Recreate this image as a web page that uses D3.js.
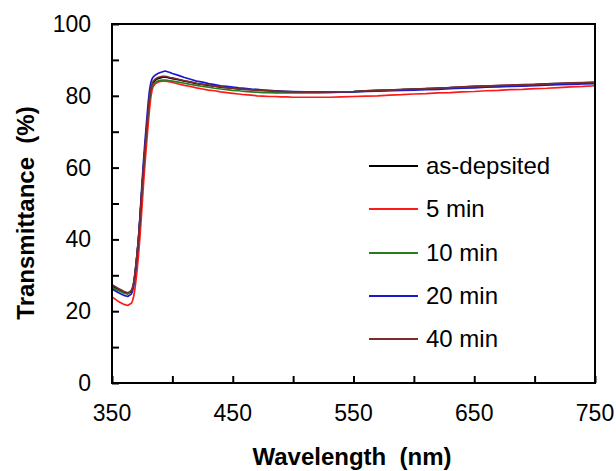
<!DOCTYPE html>
<html>
<head>
<meta charset="utf-8">
<script src="https://cdn.jsdelivr.net/npm/d3@7"></script>
<style>
  html, body { margin: 0; padding: 0; background: #fff; }
  svg { display: block; }
  text { font-family: "Liberation Sans", Arial, sans-serif; fill: #000; }
</style>
</head>
<body>
<svg id="chart" width="616" height="471"></svg>
<script>
const wavelengths = [350,355,360,363,366,367,368,369,370,371,372,373,374,375,376,377,378,379,380,381,382,383,384,386,388,390,392,394,396,398,400,405,410,415,420,425,430,435,440,445,450,455,460,465,470,475,480,485,490,495,500,510,520,530,540,550,560,570,580,590,600,610,620,630,640,650,660,670,680,690,700,710,720,730,740,750];

const asDeposited = [27.0,26.1,25.3,24.9,25.5,26.3,27.8,30.2,33.3,36.6,40.2,44.8,49.8,54.9,59.4,63.8,67.9,71.8,75.6,79.0,81.3,82.7,83.6,84.4,84.8,85.0,85.2,85.2,85.1,84.9,84.8,84.5,84.1,83.8,83.4,83.2,82.9,82.7,82.4,82.3,82.1,81.9,81.8,81.7,81.6,81.5,81.4,81.3,81.2,81.2,81.1,81.0,81.0,81.0,81.1,81.2,81.4,81.5,81.6,81.7,81.9,82.0,82.1,82.3,82.4,82.6,82.7,82.8,82.9,83.0,83.1,83.3,83.4,83.5,83.6,83.7];

const min5 = [24.0,22.8,21.9,21.6,22.2,22.9,24.2,26.3,29.0,32.2,35.8,40.0,44.8,49.9,55.0,59.6,64.0,68.2,72.2,76.0,79.2,81.3,82.5,83.4,83.8,84.0,84.1,84.1,84.0,83.9,83.7,83.3,82.9,82.6,82.2,81.9,81.6,81.4,81.1,80.9,80.7,80.5,80.3,80.2,80.0,79.9,79.8,79.8,79.7,79.7,79.6,79.6,79.6,79.6,79.7,79.8,79.9,80.0,80.2,80.3,80.5,80.6,80.8,80.9,81.1,81.2,81.4,81.5,81.7,81.8,82.0,82.1,82.3,82.5,82.6,82.8];

const min10 = [26.6,25.8,25.0,24.8,25.8,26.6,28.0,30.4,33.5,36.8,40.4,45.0,50.0,55.0,59.5,63.8,67.8,71.6,75.3,78.6,80.9,82.2,83.1,83.8,84.1,84.3,84.4,84.4,84.3,84.2,84.1,83.8,83.5,83.2,82.9,82.6,82.4,82.1,81.9,81.7,81.5,81.4,81.2,81.1,81.0,80.9,80.9,80.8,80.8,80.8,80.8,80.8,80.8,80.9,81.0,81.1,81.3,81.4,81.5,81.6,81.8,81.9,82.0,82.2,82.3,82.5,82.6,82.7,82.8,82.9,83.0,83.2,83.3,83.4,83.5,83.6];

const min20 = [26.2,25.2,24.4,24.1,24.8,25.6,27.2,29.8,33.0,36.6,40.6,45.6,51.0,56.4,61.3,65.9,70.2,74.3,78.2,81.4,83.4,84.6,85.2,85.8,86.2,86.5,86.7,86.9,86.7,86.5,86.2,85.7,85.1,84.6,84.1,83.8,83.4,83.1,82.8,82.6,82.4,82.2,82.1,81.9,81.8,81.6,81.5,81.4,81.3,81.2,81.2,81.1,81.0,81.0,81.0,81.1,81.2,81.3,81.4,81.5,81.6,81.7,81.8,82.0,82.1,82.2,82.4,82.5,82.6,82.7,82.8,83.0,83.1,83.2,83.3,83.4];

const min40 = [27.4,26.4,25.5,25.1,25.6,26.4,27.9,30.3,33.4,36.7,40.3,44.9,49.9,55.0,59.6,64.0,68.2,72.1,76.0,79.4,81.7,83.1,84.0,84.7,85.1,85.3,85.4,85.4,85.3,85.1,85.0,84.6,84.2,83.9,83.5,83.2,83.0,82.7,82.5,82.3,82.1,81.9,81.8,81.7,81.6,81.5,81.4,81.3,81.2,81.2,81.1,81.0,81.0,81.1,81.1,81.2,81.4,81.5,81.6,81.8,81.9,82.0,82.2,82.3,82.5,82.6,82.7,82.9,83.0,83.1,83.2,83.3,83.5,83.6,83.7,83.8];

const seriesNames = ["as-depsited", "5 min", "10 min", "20 min", "40 min"];
const seriesValues = [asDeposited, min5, min10, min20, min40];
const seriesColors = ["#000000", "#ff1a1a", "#2a7a22", "#1a1acc", "#7d2c2c"];

const xTickLabels = [350, 450, 550, 650, 750];
const xMinorTicks = [350, 400, 450, 500, 550, 600, 650, 700, 750];
const yTickLabels = [0, 20, 40, 60, 80, 100];
const yMinorTicks = [0, 10, 20, 30, 40, 50, 60, 70, 80, 90, 100];

const svg = d3.select("#chart");
const L = 112, R = 595, T = 24, B = 383;

const x = d3.scaleLinear().domain([350, 750]).range([L, R]);
const y = d3.scaleLinear().domain([0, 100]).range([B, T]);

svg.append("defs").append("clipPath").attr("id", "clip")
  .append("rect").attr("x", L).attr("y", T).attr("width", R - L).attr("height", B - T);

// data lines
const line = d3.line().x(d => x(d[0])).y(d => y(d[1]));
const g = svg.append("g").attr("clip-path", "url(#clip)");
seriesValues.forEach((vals, i) => {
  const pts = wavelengths.map((w, j) => [w, vals[j]]);
  g.append("path").datum(pts)
    .attr("d", line)
    .attr("fill", "none")
    .attr("stroke", seriesColors[i])
    .attr("stroke-width", 1.7)
    .attr("stroke-linejoin", "round");
});

// axes (ticks inside)
const xAxis = d3.axisBottom(x).tickValues(xMinorTicks).tickSize(-7).tickFormat("");
const yAxis = d3.axisLeft(y).tickValues(yMinorTicks).tickSize(-7).tickFormat("");
const gx = svg.append("g").attr("transform", `translate(0,${B})`).call(xAxis);
const gy = svg.append("g").attr("transform", `translate(${L},0)`).call(yAxis);
[gx, gy].forEach(a => {
  a.select(".domain").remove();
  a.selectAll(".tick line").attr("stroke", "#000").attr("stroke-width", 2);
});

// frame
svg.append("rect").attr("x", L).attr("y", T).attr("width", R - L).attr("height", B - T)
  .attr("fill", "none").attr("stroke", "#000").attr("stroke-width", 2);

// tick labels
svg.append("g").selectAll("text").data(xTickLabels).join("text")
  .attr("x", d => x(d)).attr("y", 421)
  .attr("text-anchor", "middle").attr("font-size", 23)
  .text(d => d);
svg.append("g").selectAll("text").data(yTickLabels).join("text")
  .attr("x", 91).attr("y", d => y(d) + 8)
  .attr("text-anchor", "end").attr("font-size", 23)
  .text(d => d);

// axis titles
svg.append("text").attr("x", 352).attr("y", 465)
  .attr("text-anchor", "middle").attr("font-size", 24).attr("font-weight", "bold")
  .style("white-space", "pre")
  .text("Wavelength  (nm)");
svg.append("text").attr("transform", "translate(34,213) rotate(-90)")
  .attr("text-anchor", "middle").attr("font-size", 24).attr("font-weight", "bold")
  .style("white-space", "pre")
  .text("Transmittance  (%)");

// legend
const legendY = [166, 209, 253, 296, 339];
const lg = svg.append("g");
seriesNames.forEach((name, i) => {
  lg.append("line").attr("x1", 369).attr("x2", 418)
    .attr("y1", legendY[i]).attr("y2", legendY[i])
    .attr("stroke", seriesColors[i]).attr("stroke-width", 2);
  lg.append("text").attr("x", 426).attr("y", legendY[i] + 8)
    .attr("font-size", 24).text(name);
});
</script>
</body>
</html>
